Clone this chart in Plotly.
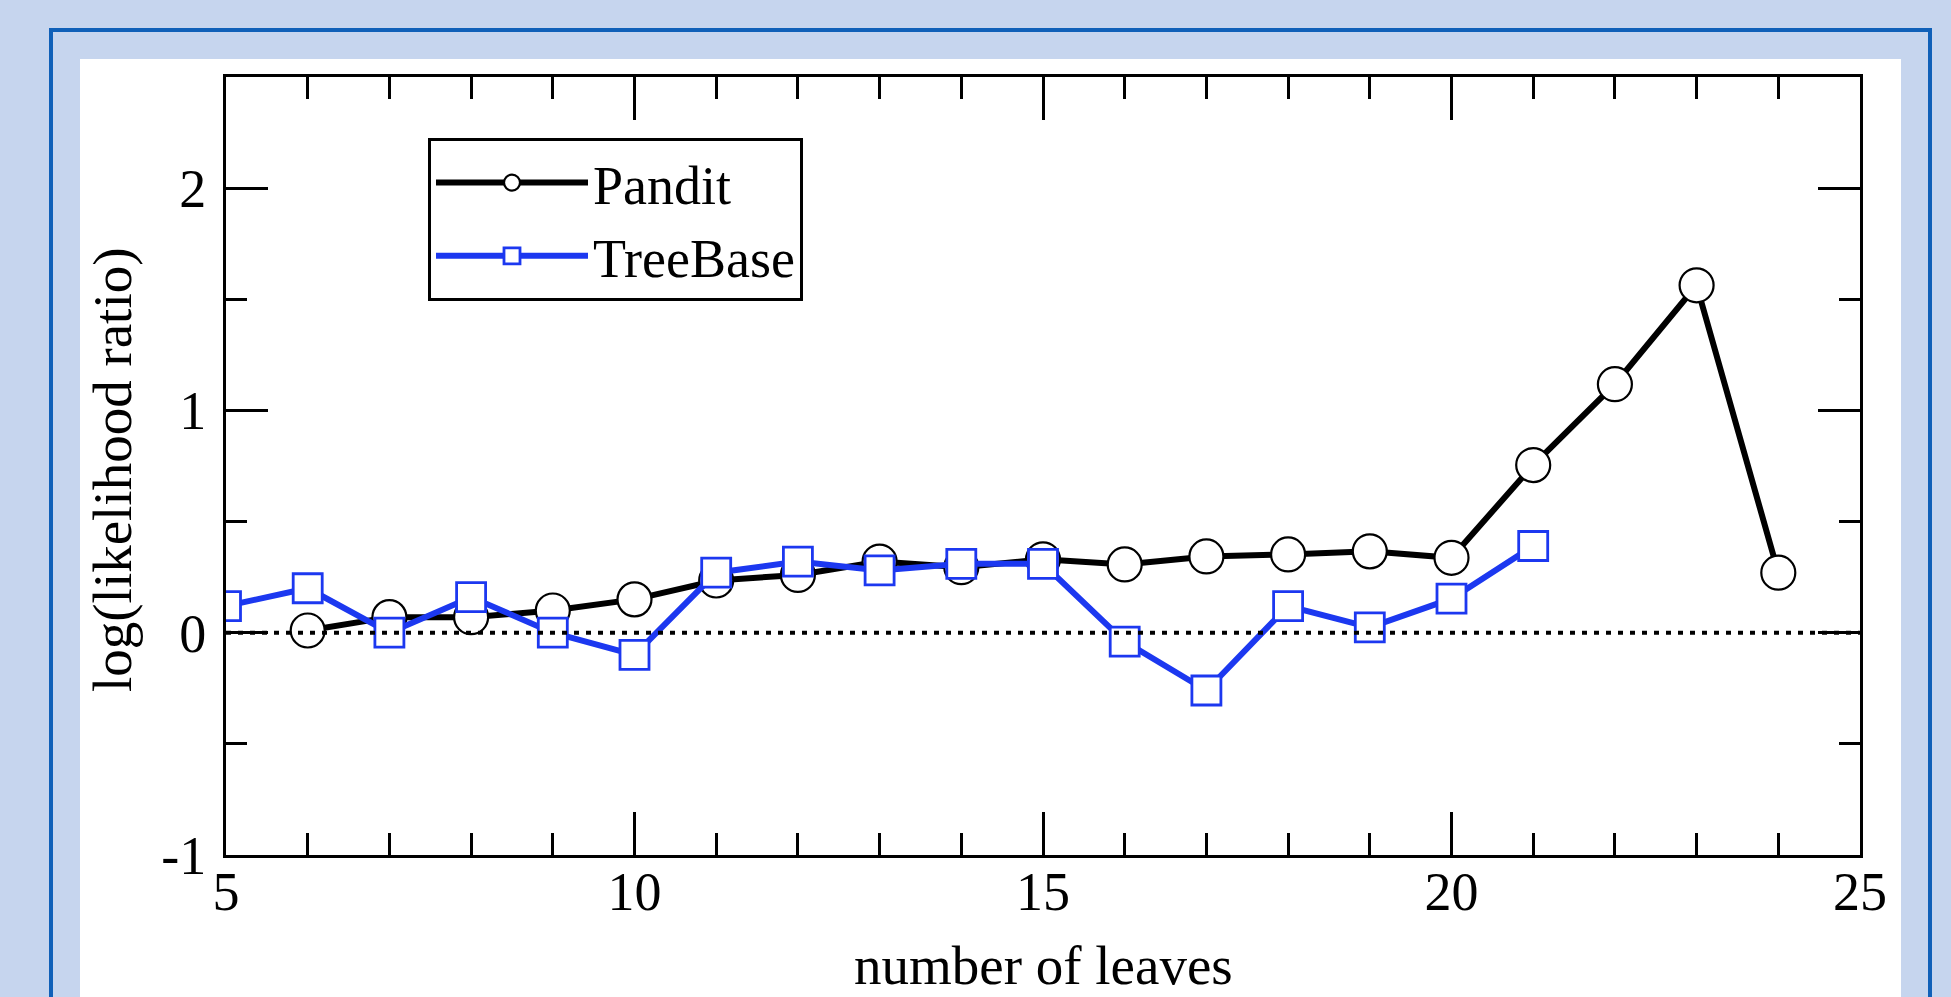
import plotly.graph_objects as go

# ---- data ----
pandit_x = [6, 7, 8, 9, 10, 11, 12, 13, 14, 15, 16, 17, 18, 19, 20, 21, 22, 23, 24]
pandit_y = [0.01, 0.07, 0.07, 0.10, 0.15, 0.235, 0.26, 0.32, 0.295, 0.33, 0.307,
            0.343, 0.352, 0.366, 0.337, 0.754, 1.118, 1.563, 0.27]

treebase_x = [5, 6, 7, 8, 9, 10, 11, 12, 13, 14, 15, 16, 17, 18, 19, 20, 21]
treebase_y = [0.12, 0.20, 0.00, 0.16, 0.00, -0.10, 0.27, 0.32, 0.28, 0.31, 0.31,
              -0.04, -0.26, 0.12, 0.024, 0.153, 0.39]

x_tickvals = [5, 10, 15, 20, 25]
x_ticktext = ["5", "10", "15", "20", "25"]
y_tickvals = [-1, 0, 1, 2]
y_ticktext = ["-1", "0", "1", "2"]

FONT = "Liberation Serif"
BLUE = "#1c38f0"

fig = go.Figure()
fig.add_trace(go.Scatter(
    x=pandit_x, y=pandit_y, name="Pandit", mode="lines+markers",
    line=dict(color="black", width=6),
    marker=dict(symbol="circle", size=34, color="white",
                line=dict(color="black", width=2.2)),
))
fig.add_trace(go.Scatter(
    x=treebase_x, y=treebase_y, name="TreeBase", mode="lines+markers",
    line=dict(color=BLUE, width=6),
    marker=dict(symbol="square", size=29, color="white",
                line=dict(color=BLUE, width=2.8)),
))

W, H = 1951, 997
L, R, T, B = 226, 1860, 77, 855


def px(x):
    return (x - L) / (R - L)


def py(y):
    return (B - y) / (B - T)


shapes = [
    # white panel
    dict(type="rect", xref="paper", yref="paper", x0=px(80), x1=px(1901),
         y0=py(1020), y1=py(59), fillcolor="white", line=dict(width=0), layer="below"),
    # blue frame
    dict(type="rect", xref="paper", yref="paper", x0=px(51), x1=px(1930),
         y0=py(1020), y1=py(30), fillcolor="rgba(0,0,0,0)",
         line=dict(color="#1060b8", width=4), layer="below"),
    # dotted zero line
    dict(type="line", xref="x", yref="y", x0=5, x1=25, y0=0, y1=0,
         line=dict(color="black", width=4, dash="5px,7px"), layer="above"),
]

axis_common = dict(
    showgrid=False, zeroline=False, showline=True, linecolor="black", linewidth=3,
    mirror="ticks", ticks="inside", tickcolor="black", tickwidth=3,
    tickfont=dict(family=FONT, size=54, color="black"),
)

fig.update_layout(
    width=W, height=H,
    margin=dict(l=L, r=W - R, t=T, b=H - B),
    paper_bgcolor="#c6d5ee", plot_bgcolor="white",
    font=dict(family=FONT, color="black"),
    shapes=shapes,
    showlegend=True,
    legend=dict(
        x=px(428), y=py(138), xanchor="left", yanchor="top",
        bgcolor="white", bordercolor="black", borderwidth=3,
        font=dict(family=FONT, size=54, color="black"),
        itemwidth=152, tracegroupgap=0,
    ),
    xaxis=dict(
        range=[5, 25], tickmode="array", tickvals=x_tickvals, ticktext=x_ticktext,
        ticklen=43, ticklabelstandoff=-13,
        minor=dict(tickmode="linear", tick0=5, dtick=1, ticks="inside",
                   ticklen=22, tickwidth=2.5, tickcolor="black"),
        **axis_common,
    ),
    yaxis=dict(
        range=[-1, 2.5], tickmode="array", tickvals=y_tickvals, ticktext=y_ticktext,
        ticklen=42, ticklabelstandoff=6,
        minor=dict(tickmode="linear", tick0=0, dtick=0.5, ticks="inside",
                   ticklen=21, tickwidth=2.5, tickcolor="black"),
        **axis_common,
    ),
    annotations=[
        dict(text="number of leaves", xref="paper", yref="paper",
             x=0.5, y=py(966), xanchor="center", yanchor="middle",
             showarrow=False, font=dict(family=FONT, size=55, color="black")),
        dict(text="log(likelihood ratio)", xref="paper", yref="paper",
             x=px(112), y=py(470), xanchor="center", yanchor="middle", textangle=-90,
             showarrow=False, font=dict(family=FONT, size=55, color="black")),
    ],
)

fig.write_html("out.html")
